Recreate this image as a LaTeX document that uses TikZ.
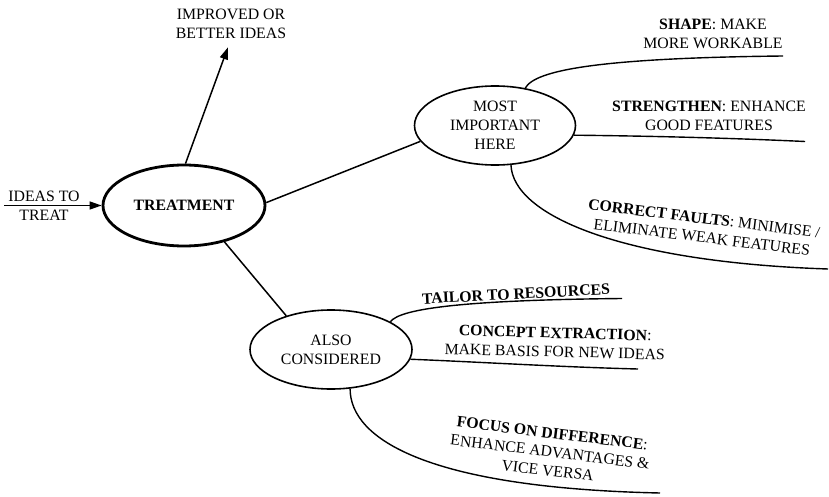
\documentclass[tikz,border=0pt]{standalone}
\usepackage{fontspec}
\setmainfont{Liberation Serif}
\usetikzlibrary{shapes.geometric,arrows.meta}
\begin{document}
\begin{tikzpicture}[x=1pt,y=-1pt,
  every node/.style={font=\fontsize{15.8}{18.8}\selectfont, inner sep=0pt, align=center},
  hub/.style={ellipse, draw, line width=1.6pt, minimum width=161, minimum height=79},
  link/.style={line width=1.5pt},
  branch/.style={line width=1.4pt},
  tip/.style={-{Triangle[length=12pt,width=8pt]}}]
\useasboundingbox (0,0) rectangle (829,497);

% central idea and its two groups
\node[hub, line width=2.8pt, minimum width=162, minimum height=81] (treat) at (184,205.5) {\textbf{TREATMENT}};
\node[hub] (most) at (495,125.5) {MOST\\IMPORTANT\\HERE};
\node[hub, minimum width=162] (also) at (331,349.5) {ALSO\\CONSIDERED};

% input and output
\node (ideas) at (44,206) {IDEAS TO\\TREAT};
\coordinate (src) at (4,205.5);
\node (improved) at (231,24) {IMPROVED OR\\BETTER IDEAS};

\draw[link, tip] (src) -- (treat.west);
\draw[link, tip, shorten >=9pt] (treat.88) -- (improved.south);
\draw[link] (treat.2) -- (most.192);
\draw[link] (treat.318) -- (also.143);

% branches of the first group
\node (shape) at (713,34) {\textbf{SHAPE}: MAKE\\MORE WORKABLE};
\node (strengthen) at (709,116) {\textbf{STRENGTHEN}: ENHANCE\\GOOD FEATURES};
\node[rotate=-7] (correct) at (703,228) {\textbf{CORRECT FAULTS}: MINIMISE /\\ELIMINATE WEAK FEATURES};
\coordinate (shapeEnd) at (783,56);
\coordinate (strEnd) at (805,141.5);
\coordinate (corEnd) at (828,269);
\draw[branch] (most.51) .. controls (535,70) and (600,58) .. (shapeEnd);
\draw[branch] (most.353) .. controls (650,136) and (730,138) .. (strEnd);
\draw[branch] (most.292) .. controls (513,215) and (620,262) .. (corEnd);

% branches of the second group
\node[rotate=3] (tailor) at (516,294) {\textbf{TAILOR TO RESOURCES}};
\node[rotate=-1.5] (concept) at (555,342.5) {\textbf{CONCEPT EXTRACTION}:\\MAKE BASIS FOR NEW IDEAS};
\node[rotate=-7] (focus) at (550,452) {\textbf{FOCUS ON DIFFERENCE}:\\ENHANCE ADVANTAGES \&\\VICE VERSA};
\coordinate (tailEnd) at (622,298.5);
\coordinate (conEnd) at (638,369);
\coordinate (focEnd) at (660,493);
\draw[branch] (also.25) .. controls (400,308) and (470,300) .. (tailEnd);
\draw[branch] (also.353) .. controls (480,362) and (560,367) .. (conEnd);
\draw[branch] (also.296) .. controls (350,440) and (430,488) .. (focEnd);
\end{tikzpicture}
\end{document}
